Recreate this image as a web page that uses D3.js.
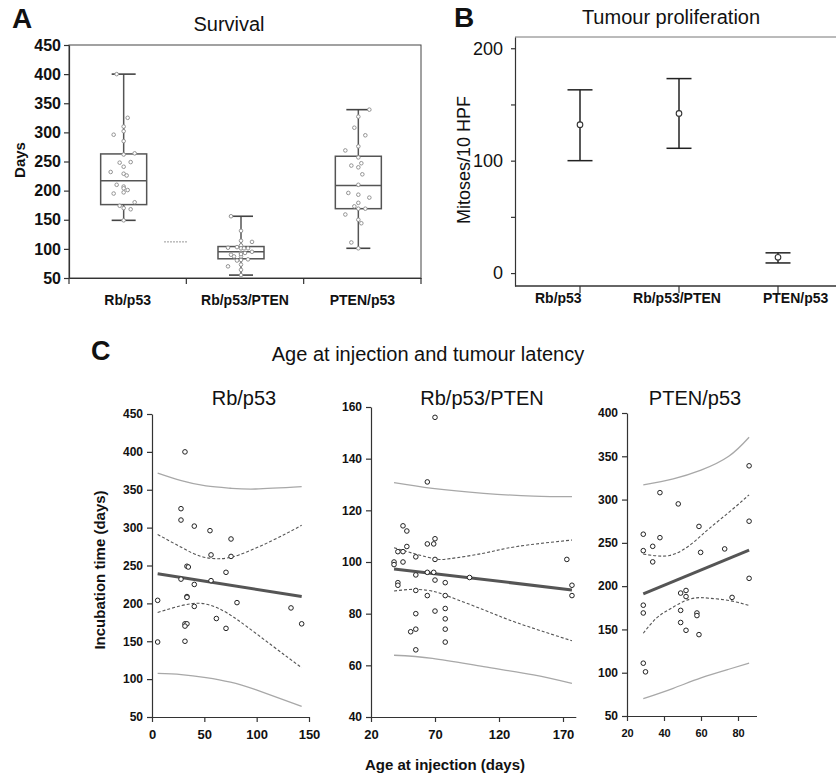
<!DOCTYPE html>
<html>
<head>
<meta charset="utf-8">
<script src="https://cdn.jsdelivr.net/npm/d3@7"></script>
<style>
  body { margin: 0; background: #fff; }
  text { font-family: "Liberation Sans", Arial, sans-serif; fill: #111; }
  text.bold { font-weight: bold; }
</style>
</head>
<body>
<div id="chart"></div>
<script>
// ---- data ----
const groups = ["Rb/p53", "Rb/p53/PTEN", "PTEN/p53"];

// Panel A: survival box plots (days)
const boxMin = [149, 55, 101];
const boxQ1 = [176, 83, 169];
const boxMedian = [217, 95, 209];
const boxQ3 = [263, 104, 259];
const boxMax = [400, 156, 339];
const survivalRbP53 = [400, 310, 325, 302, 296, 285, 264, 262, 248, 249, 241, 232, 229, 226,
  210, 207, 201, 204, 195, 197, 180, 170, 174, 168, 149];
const survivalRbP53Pten = [55, 156, 131, 112, 114, 103, 101, 106, 102, 101, 101, 87, 87, 93,
  93, 90, 91, 95, 81, 80, 82, 73, 70, 64];
const survivalPtenP53 = [339, 327, 308, 295, 276, 269, 257, 247, 243, 240, 228, 210, 196, 193,
  188, 179, 173, 169, 169, 159, 150, 144, 111, 101];
const survivalRefLine = 112;

// Panel B: mitoses per 10 HPF, mean with error bars
const prolifMean = [132, 142, 14];
const prolifLow = [100, 111, 9];
const prolifHigh = [163, 173, 18];

// Panel C: age at injection vs incubation time
const ageRbP53 = [5.4, 5.4, 31.5, 27.7, 27.7, 40.4, 55.4, 75.5, 56.4, 75.5, 33.4, 34.7, 70.7, 27.7,
  56.4, 40.4, 33.4, 33.4, 81.2, 40.4, 61.5, 70.7, 31.5, 33.4, 31.5, 31.5, 132.8, 143];
const timeRbP53 = [204, 149, 400, 325, 310, 302, 296, 285, 264, 262, 249, 248, 241, 232,
  230, 225, 209, 208, 201, 196, 180, 167, 173, 173, 170, 150, 194, 173];
const fitAgeRbP53 = [5.4, 143];
const fitTimeRbP53 = [239, 209];
const ciAgeRbP53 = [5.4, 28, 47, 64, 83, 115, 143];
const ciUpperRbP53 = [291, 274, 262, 259, 264, 283, 303];
const ciLowerRbP53 = [188, 197, 200, 193, 177, 144, 115];
const piAgeRbP53 = [5.4, 28, 51.6, 75, 99, 143];
const piUpperRbP53 = [372, 362, 355, 352, 351, 354];
const piLowerRbP53 = [107.5, 106, 102, 96, 86, 64];

const ageRbP53Pten = [38, 38, 41, 41, 41, 45, 45, 45, 48, 48, 51, 55, 55, 55, 55, 55, 55, 64, 64,
  64, 64, 69, 69, 70, 70, 70, 70, 70, 78, 78, 78, 78, 78, 78, 97, 173, 177, 177];
const timeRbP53Pten = [100, 99, 104, 92, 91, 114, 104, 100, 112, 106, 73, 102, 95, 89, 80, 74, 66,
  131, 107, 96, 87, 107, 96, 156, 109, 101, 93, 81, 92, 87, 82, 78, 74, 69, 94, 101, 91, 87];
const fitAgeRbP53Pten = [38, 177];
const fitTimeRbP53Pten = [97.3, 89.2];
const ciAgeRbP53Pten = [38, 55.5, 70, 81.7, 108, 134, 177];
const ciUpperRbP53Pten = [105.5, 103, 101.2, 101.3, 103.4, 106, 108.5];
const ciLowerRbP53Pten = [88.8, 89.4, 88.5, 86.5, 81.5, 76.5, 69.5];
const piAgeRbP53Pten = [38, 68, 108, 147, 177];
const piUpperRbP53Pten = [130.7, 128.5, 126.6, 125.5, 125.3];
const piLowerRbP53Pten = [63.9, 62.7, 59.5, 56.3, 53];

const agePtenP53 = [28.8, 28.8, 28.8, 28.8, 28.8, 30, 33.9, 33.9, 37.8, 37.8, 47.7, 49, 49, 49,
  51.9, 51.9, 51.9, 57.8, 57.8, 58.9, 58.9, 59.8, 72.8, 76.8, 86, 86, 86];
const timePtenP53 = [260, 241, 178, 169, 111, 101, 246, 228, 308, 256, 295, 192, 172, 158,
  195, 188, 149, 169, 166, 269, 144, 239, 243, 187, 339, 275, 209];
const fitAgePtenP53 = [28.8, 86];
const fitTimePtenP53 = [191, 241.6];
const ciAgePtenP53 = [28.8, 35.9, 43, 50.3, 57.5, 64.7, 75.5, 86];
const ciUpperPtenP53 = [237, 235, 235.4, 242, 253.5, 267, 286, 305.5];
const ciLowerPtenP53 = [145.6, 163, 173.3, 182, 186.5, 186, 183.3, 177.6];
const piAgePtenP53 = [28.8, 45, 60, 75, 86];
const piUpperPtenP53 = [317, 324, 334, 350, 372];
const piLowerPtenP53 = [70, 82, 94, 104, 111];

// ---- layout ----
const svg = d3.select("#chart").append("svg")
    .attr("width", 836)
    .attr("height", 778);

svg.append("rect").attr("width", 836).attr("height", 778).attr("fill", "#fff");

const axisColor = "#333";

function styleAxis(g, size, bold) {
    g.selectAll("path, line").attr("stroke", axisColor).attr("stroke-width", 1.2);
    g.selectAll("text")
        .attr("fill", "#111")
        .style("font-size", size + "px")
        .style("font-weight", bold ? "bold" : "normal")
        .style("font-family", "\"Liberation Sans\", Arial, sans-serif");
}

// ===== Panel A: Survival =====
const yA = d3.scaleLinear().domain([50, 450]).range([278, 45]);
const xA = d3.scaleBand().domain(groups).range([69, 421]);
const boxShift = -4;
const boxHalf = 23;
const capHalf = 12;

svg.append("text").attr("x", 12).attr("y", 28).attr("class", "bold")
    .style("font-size", "28px").text("A");
svg.append("text").attr("x", 229).attr("y", 31).attr("text-anchor", "middle")
    .style("font-size", "20px").text("Survival");
svg.append("text").attr("class", "bold")
    .attr("transform", "translate(25,160) rotate(-90)")
    .attr("text-anchor", "middle").style("font-size", "15px").text("Days");

// frame
svg.append("rect").attr("x", 69).attr("y", 45).attr("width", 352).attr("height", 233)
    .attr("fill", "none").attr("stroke", "#444").attr("stroke-width", 1);

svg.append("g")
    .attr("transform", "translate(69,0)")
    .call(d3.axisLeft(yA).tickValues(d3.range(50, 451, 50)).tickSize(5).tickSizeOuter(0).tickPadding(3))
    .call(g => styleAxis(g, 16, true));

svg.append("g")
    .attr("transform", "translate(0,278)")
    .call(d3.axisBottom(xA).tickSize(0).tickSizeOuter(0).tickPadding(17))
    .call(g => styleAxis(g, 14, true))
    .call(g => g.selectAll("text").style("font-family", "\"Liberation Sans Narrow\", \"Liberation Sans\", Arial"));

// category separators
svg.append("g").selectAll("line")
    .data(groups.map(d => xA(d)).concat([xA.range()[1]]))
    .join("line")
    .attr("x1", d => d).attr("x2", d => d)
    .attr("y1", 278).attr("y2", 284)
    .attr("stroke", axisColor).attr("stroke-width", 1.2);

const boxCx = i => xA(groups[i]) + xA.bandwidth() / 2 + boxShift;
const boxG = svg.append("g");
groups.forEach((g, i) => {
    const cx = boxCx(i);
    boxG.append("line").attr("x1", cx).attr("x2", cx)
        .attr("y1", yA(boxMax[i])).attr("y2", yA(boxMin[i]))
        .attr("stroke", "#555").attr("stroke-width", 1.5);
    [boxMax[i], boxMin[i]].forEach(v => {
        boxG.append("line").attr("x1", cx - capHalf).attr("x2", cx + capHalf)
            .attr("y1", yA(v)).attr("y2", yA(v))
            .attr("stroke", "#444").attr("stroke-width", 1.6);
    });
    boxG.append("rect").attr("x", cx - boxHalf).attr("width", boxHalf * 2)
        .attr("y", yA(boxQ3[i])).attr("height", yA(boxQ1[i]) - yA(boxQ3[i]))
        .attr("fill", "#fff").attr("stroke", "#555").attr("stroke-width", 1.5);
    boxG.append("line").attr("x1", cx - boxHalf).attr("x2", cx + boxHalf)
        .attr("y1", yA(boxMedian[i])).attr("y2", yA(boxMedian[i]))
        .attr("stroke", "#555").attr("stroke-width", 1.5);
});

// jittered raw points over the boxes (fixed pattern, not random)
const jitterPattern = [-7, 0, 4, 0, -10, 0, 11, 0, -4, 7, 0, -13, 0, 3];
[survivalRbP53, survivalRbP53Pten, survivalPtenP53].forEach((vals, gi) => {
    boxG.append("g").selectAll("circle")
        .data(vals)
        .join("circle")
        .attr("cx", (d, i) => boxCx(gi) + jitterPattern[(i + gi * 3) % jitterPattern.length])
        .attr("cy", d => yA(d))
        .attr("r", 1.8)
        .attr("fill", "#fff")
        .attr("stroke", "#8a8a8a")
        .attr("stroke-width", 0.9);
});

svg.append("line")
    .attr("x1", 164).attr("x2", 187)
    .attr("y1", yA(survivalRefLine)).attr("y2", yA(survivalRefLine))
    .attr("stroke", "#999").attr("stroke-width", 1).attr("stroke-dasharray", "2,1");

// ===== Panel B: Tumour proliferation =====
const yB = d3.scaleLinear().domain([-11.5, 210]).range([286, 37]);
const xB = d3.scalePoint().domain(groups).range([580, 778]);
const xBLabel = d3.scaleBand().domain(groups).range([499, 855]);

svg.append("text").attr("x", 454).attr("y", 27).attr("class", "bold")
    .style("font-size", "28px").text("B");
svg.append("text").attr("x", 671).attr("y", 24).attr("text-anchor", "middle")
    .style("font-size", "20px").text("Tumour proliferation");
svg.append("text")
    .attr("transform", "translate(470,160) rotate(-90)")
    .attr("text-anchor", "middle").style("font-size", "18px").text("Mitoses/10 HPF");

svg.append("line").attr("x1", 515).attr("x2", 836).attr("y1", 37).attr("y2", 37)
    .attr("stroke", "#777").attr("stroke-width", 1);
svg.append("line").attr("x1", 515).attr("x2", 836).attr("y1", 286).attr("y2", 286)
    .attr("stroke", axisColor).attr("stroke-width", 1.3);

svg.append("g")
    .attr("transform", "translate(515,0)")
    .call(d3.axisLeft(yB).tickValues([0, 50, 100, 150, 200])
        .tickFormat(d => d % 100 === 0 ? d : "").tickSize(4).tickSizeOuter(0).tickPadding(8))
    .call(g => styleAxis(g, 18, false));

svg.append("g").selectAll("line")
    .data(groups)
    .join("line")
    .attr("x1", d => xB(d)).attr("x2", d => xB(d))
    .attr("y1", 286).attr("y2", 293)
    .attr("stroke", axisColor).attr("stroke-width", 1.2);

svg.append("g").selectAll("text")
    .data(groups)
    .join("text")
    .attr("x", d => xBLabel(d) + xBLabel.bandwidth() / 2)
    .attr("y", 303)
    .attr("text-anchor", "middle")
    .style("font-weight", "bold")
    .style("font-size", "14px")
    .style("font-family", "\"Liberation Sans Narrow\", \"Liberation Sans\", Arial")
    .text(d => d);

const errG = svg.append("g");
groups.forEach((g, i) => {
    const cx = xB(g);
    const cap = 12.5;
    errG.append("line").attr("x1", cx).attr("x2", cx)
        .attr("y1", yB(prolifHigh[i])).attr("y2", yB(prolifLow[i]))
        .attr("stroke", "#222").attr("stroke-width", 1.5);
    [prolifHigh[i], prolifLow[i]].forEach(v => {
        errG.append("line").attr("x1", cx - cap).attr("x2", cx + cap)
            .attr("y1", yB(v)).attr("y2", yB(v))
            .attr("stroke", "#222").attr("stroke-width", 1.5);
    });
    errG.append("circle").attr("cx", cx).attr("cy", yB(prolifMean[i])).attr("r", 2.8)
        .attr("fill", "#fff").attr("stroke", "#333").attr("stroke-width", 1.1);
});

// ===== Panel C: Age at injection and tumour latency =====
svg.append("text").attr("x", 91).attr("y", 360).attr("class", "bold")
    .style("font-size", "27px").text("C");
svg.append("text").attr("x", 428).attr("y", 361).attr("text-anchor", "middle")
    .style("font-size", "20px").text("Age at injection and tumour latency");
svg.append("text").attr("class", "bold")
    .attr("transform", "translate(105,570) rotate(-90)")
    .attr("text-anchor", "middle").style("font-size", "15px").text("Incubation time  (days)");
svg.append("text").attr("class", "bold")
    .attr("x", 445).attr("y", 770).attr("text-anchor", "middle")
    .style("font-size", "15px").text("Age at injection (days)");

const panels = [
    { title: "Rb/p53", cx: 244,
      x: d3.scaleLinear().domain([0, 150]).range([152, 309]), xTicks: [0, 50, 100, 150],
      y: d3.scaleLinear().domain([50, 450]).range([717, 414]), yTicks: d3.range(50, 451, 50),
      tickFont: 13,
      age: ageRbP53, time: timeRbP53, fitAge: fitAgeRbP53, fitTime: fitTimeRbP53,
      ciAge: ciAgeRbP53, ciUp: ciUpperRbP53, ciLo: ciLowerRbP53,
      piAge: piAgeRbP53, piUp: piUpperRbP53, piLo: piLowerRbP53 },
    { title: "Rb/p53/PTEN", cx: 482,
      x: d3.scaleLinear().domain([20, 180]).range([371, 575.8]), xTicks: [20, 70, 120, 170],
      y: d3.scaleLinear().domain([40, 160]).range([717, 407]), yTicks: d3.range(40, 161, 20),
      tickFont: 13,
      age: ageRbP53Pten, time: timeRbP53Pten, fitAge: fitAgeRbP53Pten, fitTime: fitTimeRbP53Pten,
      ciAge: ciAgeRbP53Pten, ciUp: ciUpperRbP53Pten, ciLo: ciLowerRbP53Pten,
      piAge: piAgeRbP53Pten, piUp: piUpperRbP53Pten, piLo: piLowerRbP53Pten },
    { title: "PTEN/p53", cx: 695,
      x: d3.scaleLinear().domain([20, 90]).range([627, 756.5]), xTicks: [20, 40, 60, 80],
      y: d3.scaleLinear().domain([50, 400]).range([716, 413]), yTicks: d3.range(50, 401, 50),
      tickFont: 11,
      age: agePtenP53, time: timePtenP53, fitAge: fitAgePtenP53, fitTime: fitTimePtenP53,
      ciAge: ciAgePtenP53, ciUp: ciUpperPtenP53, ciLo: ciLowerPtenP53,
      piAge: piAgePtenP53, piUp: piUpperPtenP53, piLo: piLowerPtenP53 }
];

panels.forEach(p => {
    const g = svg.append("g");
    const x0 = p.x.range()[0];
    const yBottom = p.y.range()[0];

    g.append("text").attr("x", p.cx).attr("y", 405).attr("text-anchor", "middle")
        .style("font-size", "20px").text(p.title);

    g.append("g")
        .attr("transform", `translate(${x0},0)`)
        .call(d3.axisLeft(p.y).tickValues(p.yTicks).tickSize(5).tickSizeOuter(0).tickPadding(4))
        .call(a => styleAxis(a, 12, true));

    g.append("g")
        .attr("transform", `translate(0,${yBottom})`)
        .call(d3.axisBottom(p.x).tickValues(p.xTicks).tickSize(5).tickSizeOuter(0).tickPadding(8))
        .call(a => styleAxis(a, p.tickFont, true));

    const curve = (xs, ys) => d3.line()
        .x((d, i) => p.x(xs[i]))
        .y(d => p.y(d))
        .curve(d3.curveNatural)(ys);

    // prediction band
    [p.piUp, p.piLo].forEach(ys => {
        g.append("path").attr("d", curve(p.piAge, ys))
            .attr("fill", "none").attr("stroke", "#a8a8a8").attr("stroke-width", 1.3);
    });
    // confidence band
    [p.ciUp, p.ciLo].forEach(ys => {
        g.append("path").attr("d", curve(p.ciAge, ys))
            .attr("fill", "none").attr("stroke", "#555").attr("stroke-width", 1.1)
            .attr("stroke-dasharray", "3,2");
    });
    // regression line
    g.append("path").attr("d", curve(p.fitAge, p.fitTime))
        .attr("fill", "none").attr("stroke", "#555").attr("stroke-width", 3);

    g.append("g").selectAll("circle")
        .data(p.time)
        .join("circle")
        .attr("cx", (d, i) => p.x(p.age[i]))
        .attr("cy", d => p.y(d))
        .attr("r", 2.3)
        .attr("fill", "#fff")
        .attr("stroke", "#222")
        .attr("stroke-width", 1);
});
</script>
</body>
</html>
